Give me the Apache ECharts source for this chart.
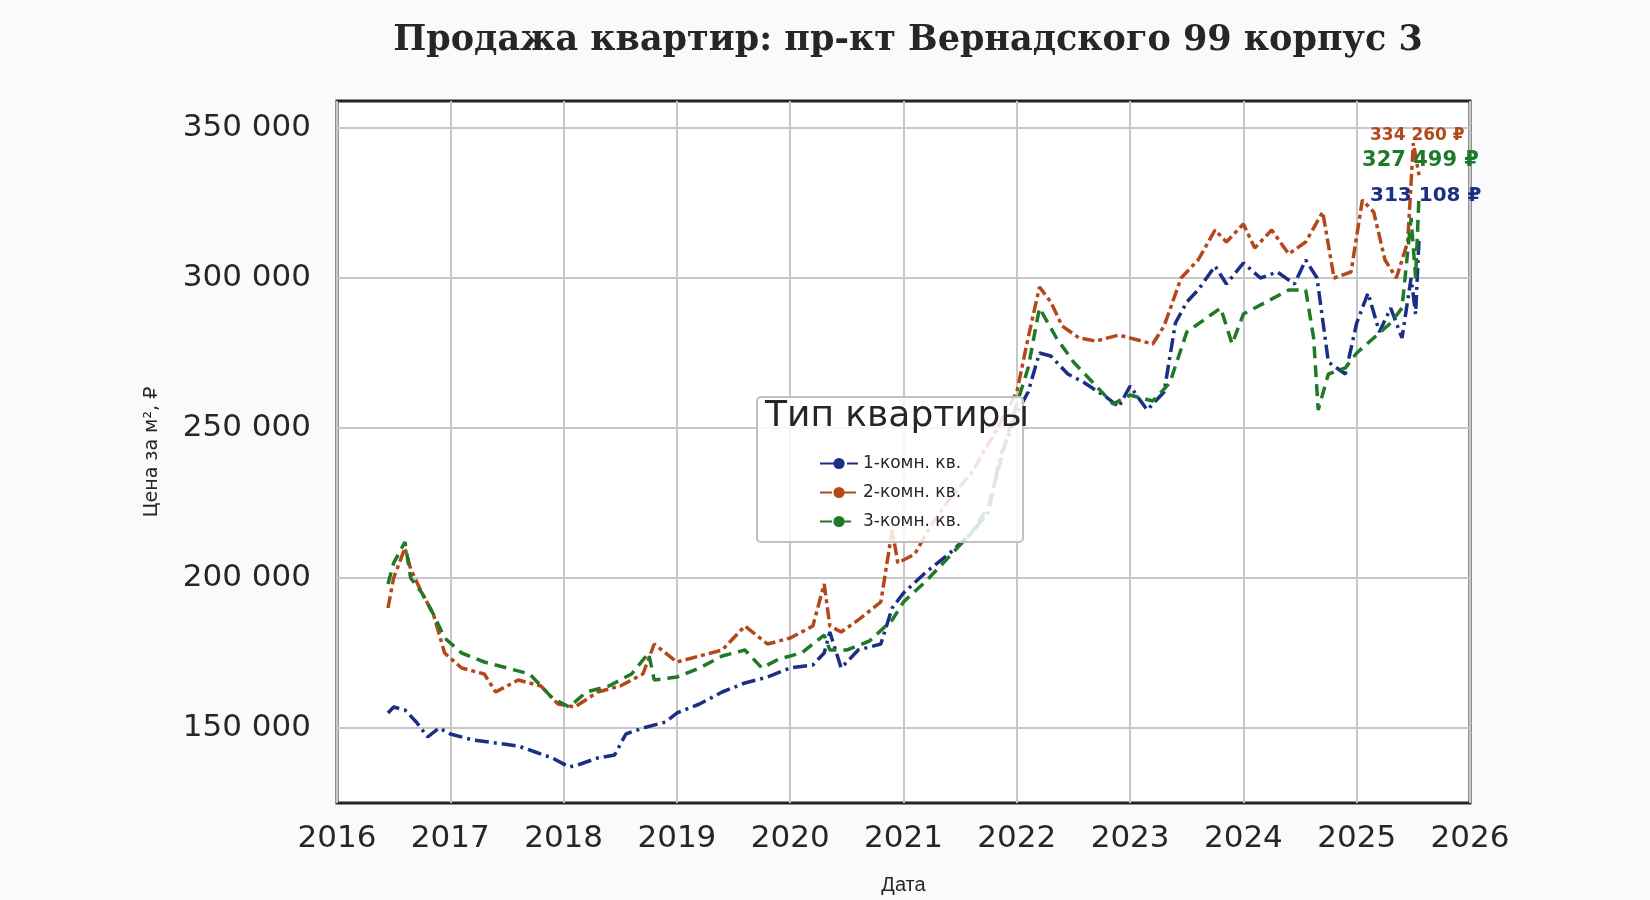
<!DOCTYPE html><html><head><meta charset="utf-8"><script src="https://cdn.jsdelivr.net/npm/echarts@6/dist/echarts.min.js"></script>
<style>html,body{margin:0;background:#f9fafc}#c{width:1650px;height:900px}</style></head><body><div id="c"></div><script>
const t1=[2016.45,2016.5,2016.6,2016.7,2016.8,2016.9,2017.0,2017.2,2017.4,2017.6,2017.75,2017.9,2018.05,2018.15,2018.3,2018.45,2018.55,2018.7,2018.9,2019.0,2019.2,2019.4,2019.6,2019.8,2020.0,2020.2,2020.3,2020.35,2020.45,2020.6,2020.8,2020.9,2021.0,2021.2,2021.4,2021.6,2021.75,2021.85,2022.0,2022.1,2022.2,2022.3,2022.45,2022.6,2022.8,2022.9,2023.0,2023.15,2023.3,2023.4,2023.5,2023.6,2023.75,2023.85,2024.0,2024.15,2024.3,2024.45,2024.55,2024.65,2024.75,2024.9,2025.0,2025.1,2025.2,2025.3,2025.4,2025.48,2025.52,2025.55];
const v1=[155000,157000,156000,152000,147000,150000,148000,146000,145000,144000,142000,140000,137000,138000,140000,141000,148000,150000,152000,155000,158000,162000,165000,167000,170000,171000,175000,182000,170000,176000,178000,190000,195000,202000,208000,215000,222000,240000,255000,262000,275000,274000,268000,265000,260000,257000,264000,256000,262000,285000,292000,296000,304000,298000,305000,300000,302000,298000,306000,300000,272000,268000,285000,295000,282000,290000,280000,300000,288000,313108];
const t2=[2016.45,2016.5,2016.6,2016.65,2016.75,2016.85,2016.95,2017.1,2017.3,2017.4,2017.6,2017.8,2017.95,2018.1,2018.3,2018.5,2018.7,2018.8,2019.0,2019.2,2019.4,2019.6,2019.8,2020.0,2020.2,2020.3,2020.35,2020.45,2020.6,2020.8,2020.9,2020.95,2021.1,2021.25,2021.4,2021.6,2021.8,2022.0,2022.1,2022.2,2022.3,2022.4,2022.55,2022.7,2022.9,2023.0,2023.2,2023.3,2023.45,2023.6,2023.75,2023.85,2024.0,2024.1,2024.25,2024.4,2024.55,2024.7,2024.8,2024.95,2025.05,2025.15,2025.25,2025.35,2025.45,2025.5,2025.55];
const v2=[190000,200000,210000,203000,195000,188000,175000,170000,168000,162000,166000,164000,158000,157000,162000,164000,168000,178000,172000,174000,176000,184000,178000,180000,184000,198000,184000,182000,186000,192000,216000,205000,208000,218000,226000,235000,248000,262000,280000,297000,292000,284000,280000,279000,281000,280000,278000,284000,300000,306000,316000,312000,318000,310000,316000,308000,312000,322000,300000,302000,326000,322000,306000,300000,312000,345000,334260];
const t3=[2016.45,2016.5,2016.6,2016.65,2016.75,2016.85,2016.95,2017.1,2017.3,2017.5,2017.7,2017.9,2018.05,2018.2,2018.4,2018.6,2018.75,2018.8,2019.0,2019.2,2019.4,2019.6,2019.75,2019.9,2020.1,2020.3,2020.35,2020.5,2020.7,2020.9,2021.0,2021.2,2021.4,2021.6,2021.75,2021.9,2022.0,2022.1,2022.2,2022.35,2022.5,2022.7,2022.85,2023.0,2023.2,2023.35,2023.5,2023.65,2023.8,2023.9,2024.0,2024.2,2024.4,2024.55,2024.62,2024.66,2024.75,2024.9,2025.0,2025.15,2025.3,2025.4,2025.48,2025.52,2025.55];
const v3=[198000,205000,212000,200000,195000,188000,180000,175000,172000,170000,168000,160000,157000,162000,164000,168000,175000,166000,167000,170000,174000,176000,170000,173000,175000,181000,176000,176000,179000,186000,192000,199000,207000,215000,224000,245000,258000,270000,290000,280000,272000,264000,258000,261000,259000,265000,282000,286000,290000,278000,288000,292000,296000,296000,280000,256000,268000,270000,275000,280000,285000,290000,320000,300000,327499];
const mk=(t,v)=>t.map((x,i)=>[x,v[i]]);
const fmt=n=>Math.round(n).toString().replace(/\B(?=(\d{3})+(?!\d))/g,' ');
function ser(name,t,v,color,dash,off){return{name,type:'line',data:mk(t,v),symbol:'none',lineStyle:{color,width:3.5,type:dash},itemStyle:{color},
endLabel:{show:true,formatter:p=>fmt(p.value[1])+' ₽',color,fontWeight:'bold',fontSize:off[2],fontFamily:'DejaVu Sans',offset:[off[0],off[1]]}}}
const ch=echarts.init(document.getElementById('c'));
ch.setOption({backgroundColor:'#f9fafc',animation:false,
title:{text:'Продажа квартир: пр-кт Вернадского 99 корпус 3',left:903,textAlign:'center',top:18,textStyle:{fontFamily:'DejaVu Serif',fontWeight:'bold',fontSize:35,color:'#262626'}},
grid:{left:337,right:180,top:101,bottom:73,show:true,backgroundColor:'#fff',borderColor:'#262626',borderWidth:3},
xAxis:{type:'value',min:2016,max:2026,interval:1,name:'Дата',nameLocation:'middle',nameGap:72,nameTextStyle:{fontSize:20,color:'#262626'},
axisLabel:{fontSize:31,color:'#262626',fontFamily:'DejaVu Sans',margin:20,formatter:v=>String(v)},axisLine:{show:false},axisTick:{show:false},splitLine:{lineStyle:{color:'#c8c8c8',width:2}}},
yAxis:{type:'value',min:125000,max:359000,interval:25000,name:'Цена за м², ₽',nameLocation:'middle',nameGap:175,nameTextStyle:{fontSize:19,color:'#262626',fontFamily:'DejaVu Sans'},
axisLabel:{fontSize:31,color:'#262626',fontFamily:'DejaVu Sans',margin:26,formatter:v=>v%50000===0?fmt(v):''},axisLine:{show:false},axisTick:{show:false},splitLine:{lineStyle:{color:['rgba(0,0,0,0)','#c8c8c8'],width:2}}},
legend:{orient:'vertical',left:757,top:397,itemWidth:38,itemHeight:14,itemGap:12,padding:[58,62,12,62],backgroundColor:'rgba(255,255,255,0.85)',borderColor:'#c0c0c0',borderWidth:2,borderRadius:4,
textStyle:{fontSize:17,color:'#262626',fontFamily:'DejaVu Sans'},data:['1-комн. кв.','2-комн. кв.','3-комн. кв.']},
graphic:[{type:'text',left:765,top:399,z:100,style:{text:'Тип квартиры',fontSize:36,fill:'#262626',fontFamily:'DejaVu Sans'}}],
series:[ser('1-комн. кв.',t1,v1,'#1a2f85',[14,5,3,5],[-57,-43,20]),ser('2-комн. кв.',t2,v2,'#b5481a',[12,4,4,4],[-57,-40,17]),ser('3-комн. кв.',t3,v3,'#1f7a28',[12,7],[-65,-35,21])]
});
</script></body></html>
